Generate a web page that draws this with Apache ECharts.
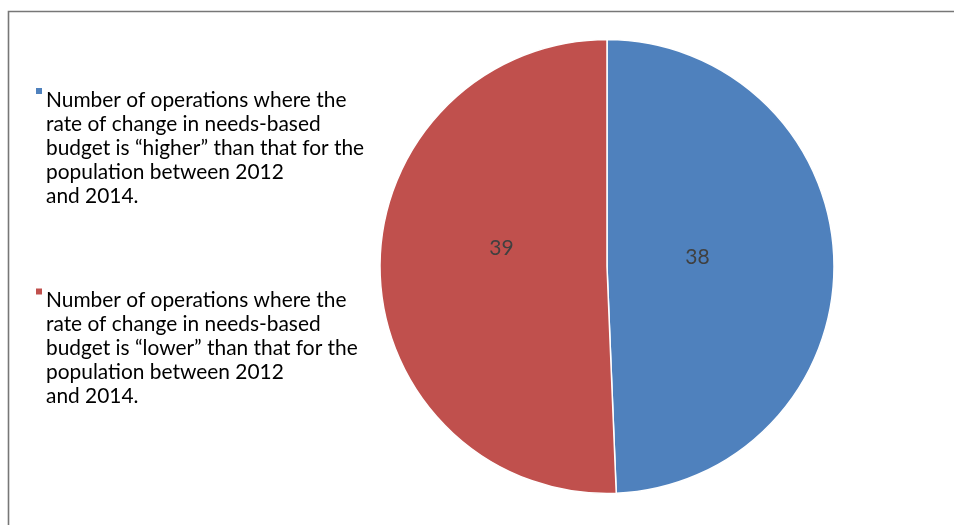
<!DOCTYPE html>
<html>
<head>
<meta charset="utf-8">
<script src="https://cdn.jsdelivr.net/npm/echarts@6/dist/echarts.min.js"></script>
<style>
html,body{margin:0;padding:0;background:#fff;}
#chart{width:954px;height:525px;}
</style>
</head>
<body>
<div id="chart"></div>
<script>
// ---- data ----
const categoryLines = [
  ['Number of operations where the', 'rate of change in needs-based', 'budget is \u201chigher\u201d than that for the', 'population between 2012', 'and 2014.'],
  ['Number of operations where the', 'rate of change in needs-based', 'budget is \u201clower\u201d than that for the', 'population between 2012', 'and 2014.']
];
const categories = categoryLines.map(l => l.join(' '));
const values = [38, 39];
const colors = ['#4F81BD', '#C0504D'];

// ---- styling ----
const FONT = 'Lato, "Open Sans", sans-serif';
const labelShift = [[-26, -7], [11, -21]];

const chart = echarts.init(document.getElementById('chart'));

const rich = {
  t: { fontFamily: FONT, fontSize: 20.9, lineHeight: 24, color: '#000' },
  g: { width: 4, height: 6 },
  s: { width: 10, height: 6 }
};
colors.forEach((c, i) => {
  rich['sq' + i] = { width: 6, height: 6, backgroundColor: c, verticalAlign: 'top', lineHeight: 24 };
});

const option = {
  animation: false,
  backgroundColor: '#fff',
  color: colors,
  graphic: [{
    type: 'rect',
    shape: { x: 8.5, y: 11.5, width: 1000, height: 600 },
    style: { fill: 'none', stroke: '#777', lineWidth: 1.6 },
    silent: true
  }],
  legend: {
    orient: 'vertical',
    left: 36,
    top: 85,
    padding: 0,
    itemGap: 79,
    icon: 'none',
    itemWidth: 0,
    itemHeight: 6,
    selectedMode: false,
    data: categories,
    formatter: function (name) {
      const idx = categories.indexOf(name);
      const lines = categoryLines[idx];
      return lines.map((ln, j) => (j === 0 ? '{sq' + idx + '|}{g|}' : '{s|}') + '{t|' + ln + '}').join('\n');
    },
    textStyle: { rich: rich, padding: [0, 0, 0, -5] }
  },
  series: [{
    type: 'pie',
    center: [607, 266.5],
    radius: 227,
    startAngle: 90,
    clockwise: true,
    avoidLabelOverlap: false,
    itemStyle: { borderColor: '#fff', borderWidth: 1.5 },
    label: {
      show: true,
      position: 'inside',
      color: '#404040',
      fontFamily: FONT,
      fontSize: 21,
      formatter: '{c}'
    },
    labelLayout: function (p) {
      const s = labelShift[p.dataIndex];
      return { dx: s[0], dy: s[1] };
    },
    labelLine: { show: false },
    emphasis: { disabled: true },
    data: categories.map((name, i) => ({ name: name, value: values[i] }))
  }]
};
chart.setOption(option);
</script>
</body>
</html>
